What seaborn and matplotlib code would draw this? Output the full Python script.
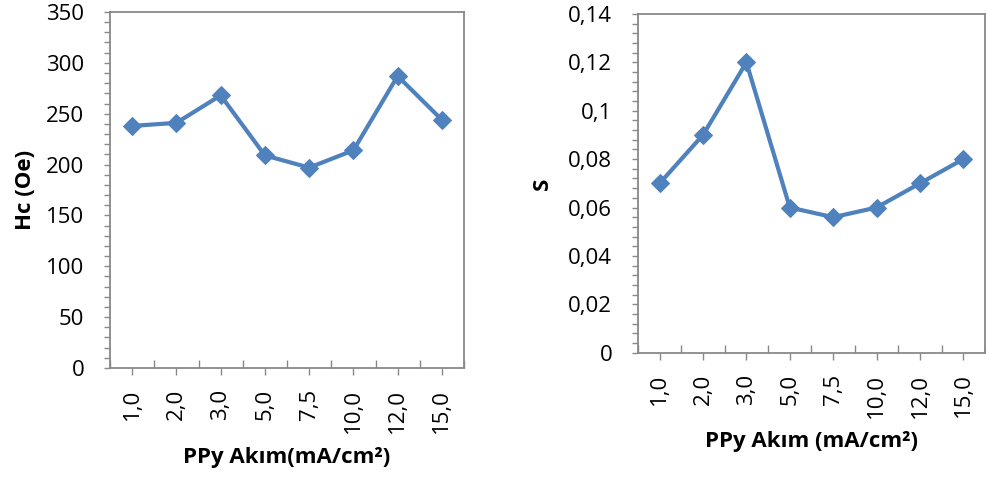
import matplotlib
matplotlib.use("Agg")
import matplotlib.pyplot as plt
import seaborn as sns
import pandas as pd
import numpy as np
from matplotlib.ticker import MultipleLocator, FixedLocator, FuncFormatter

categories = ["1,0", "2,0", "3,0", "5,0", "7,5", "10,0", "12,0", "15,0"]
hc_values = [238, 241, 268, 209, 197, 214, 287, 244]
s_values = [0.07, 0.09, 0.12, 0.06, 0.056, 0.06, 0.07, 0.08]

sns.set_theme(style="white")
plt.rcParams['font.family'] = ['Open Sans', 'DejaVu Sans']
plt.rcParams['text.color'] = 'black'
plt.rcParams['axes.labelcolor'] = 'black'
plt.rcParams['xtick.labelcolor'] = 'black'
plt.rcParams['ytick.labelcolor'] = 'black'

LINE = "#4F81BD"
SPINE = "#898989"

fig = plt.figure(figsize=(9.86, 4.79), dpi=100)
ax1 = fig.add_axes([0.1116, 0.2317, 0.359, 0.7433])
ax2 = fig.add_axes([0.647, 0.2637, 0.352, 0.7071])

df1 = pd.DataFrame({"x": categories, "y": hc_values})
df2 = pd.DataFrame({"x": categories, "y": s_values})

for ax, df in [(ax1, df1), (ax2, df2)]:
    sns.lineplot(data=df, x="x", y="y", ax=ax, color=LINE, linewidth=3,
                 marker="D", markersize=9.5, markeredgecolor=LINE, sort=False)
    ax.set_xlim(-0.5, len(categories) - 0.5)
    ax.set_xticks(range(len(categories)))
    ax.set_xticklabels(categories, rotation=90, fontsize=16)
    ax.xaxis.set_minor_locator(FixedLocator(np.arange(-0.5, len(categories), 1.0)))
    for s in ax.spines.values():
        s.set_color(SPINE)
        s.set_linewidth(1.3)
    ax.tick_params(axis='both', which='both', color=SPINE, width=1.0,
                   bottom=True, left=True, labelsize=16)
    ax.tick_params(axis='y', which='both', direction='out', length=4.5)
    ax.tick_params(axis='y', which='major', pad=14)
    ax.tick_params(axis='x', which='major', direction='out', length=5, pad=10)
    ax.tick_params(axis='x', which='minor', direction='in', length=6)
    ax.grid(False)

ax1.set_ylim(0, 350)
ax1.yaxis.set_major_locator(MultipleLocator(50))
ax1.yaxis.set_minor_locator(MultipleLocator(10))
ax1.set_ylabel("Hc (Oe)", fontsize=16, fontweight='bold', labelpad=7)
ax1.set_xlabel("PPy Akım(mA/cm²)", fontsize=16, fontweight='bold', labelpad=10)

ax2.set_ylim(0, 0.14)
ax2.yaxis.set_major_locator(MultipleLocator(0.02))
ax2.yaxis.set_minor_locator(MultipleLocator(0.004))
ax2.yaxis.set_major_formatter(FuncFormatter(
    lambda v, p: "0" if abs(v) < 1e-9 else ("%g" % round(v, 3)).replace(".", ",")))
ax2.set_ylabel("S", fontsize=16, fontweight='bold', labelpad=11)
ax2.set_xlabel("PPy Akım (mA/cm²)", fontsize=16, fontweight='bold', labelpad=10)

fig.savefig("out.png", dpi=100)
